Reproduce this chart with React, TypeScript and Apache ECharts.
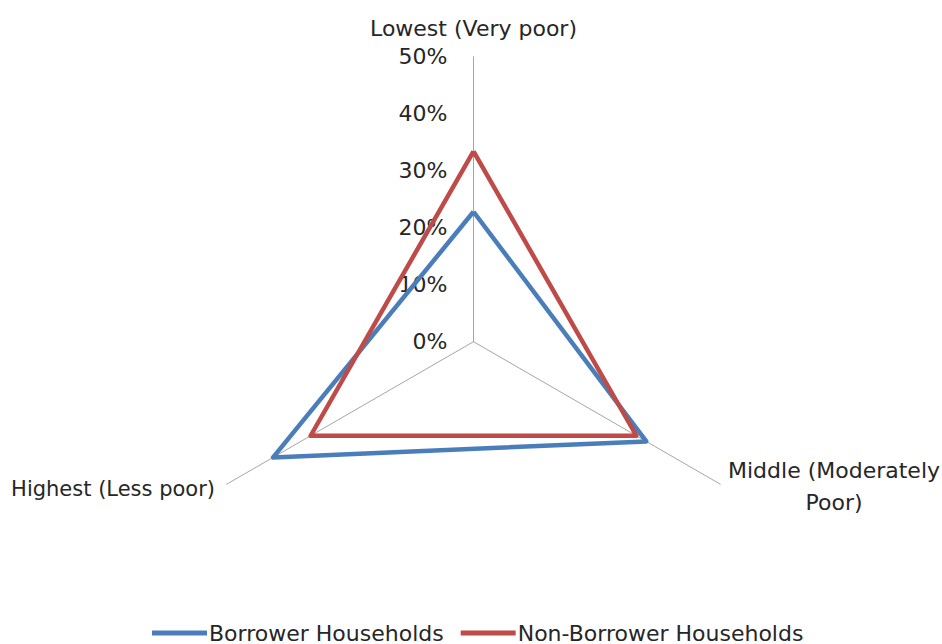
import React, { useEffect, useRef } from "react";
import * as echarts from "echarts";

const categories = ["Lowest (Very poor)", "Middle (Moderately Poor)", "Highest (Less poor)"];
const seriesNames = ["Borrower Households", "Non-Borrower Households"];
const borrower = [22.8, 35.0, 40.6];
const nonBorrower = [33.4, 33.0, 33.0];
const tickValues = [0, 10, 20, 30, 40, 50];

// radar indicators run counter-clockwise from the top: Lowest, Highest, Middle
const order = [0, 2, 1];

export default function App() {
  const ref = useRef<HTMLDivElement>(null);
  useEffect(() => {
    if (!ref.current) return;
    const chart = echarts.init(ref.current, null, { renderer: "svg" });
    const font = "'DejaVu Sans', 'Noto Sans', sans-serif";
    const fs = 22;
    const textColor = "#262626";
    const cx = 473.5;
    const cy = 341.7;
    const R = 285;
    chart.setOption({
      animation: false,
      backgroundColor: "#ffffff",
      textStyle: { fontFamily: font },
      radar: {
        center: [cx, cy],
        radius: R,
        startAngle: 90,
        shape: "polygon",
        splitNumber: 5,
        indicator: order.map((i) => ({ name: categories[i], min: 0, max: 50 })),
        axisName: { show: false },
        axisLine: { show: true, lineStyle: { color: "#a6a6a6", width: 1 } },
        axisTick: { show: false },
        axisLabel: { show: false },
        splitLine: { show: false },
        splitArea: { show: false },
      },
      grid: { left: cx, top: cy - R, width: 1, height: R },
      xAxis: { type: "value", show: false, min: 0, max: 1 },
      yAxis: {
        type: "value",
        min: tickValues[0],
        max: tickValues[tickValues.length - 1],
        interval: 10,
        axisLine: { show: false },
        axisTick: { show: false },
        splitLine: { show: false },
        axisLabel: {
          formatter: "{value}%",
          margin: 26,
          fontSize: fs,
          color: textColor,
          fontFamily: font,
        },
      },
      legend: {
        data: seriesNames,
        left: 152,
        top: 622,
        padding: 0,
        icon: "rect",
        itemWidth: 55,
        itemHeight: 5,
        itemGap: 17,
        textStyle: { fontSize: fs, color: textColor, fontFamily: font, padding: [0, 0, 0, -3] },
      },
      graphic: [
        {
          type: "text",
          x: cx,
          y: 28,
          style: {
            text: categories[0],
            font: `${fs}px ${font}`,
            fill: textColor,
            align: "center",
            verticalAlign: "middle",
          },
        },
        {
          type: "text",
          x: 834,
          y: 486,
          style: {
            text: "Middle (Moderately\nPoor)",
            font: `${fs}px ${font}`,
            fill: textColor,
            align: "center",
            verticalAlign: "middle",
            lineHeight: 32,
          },
        },
        {
          type: "text",
          x: 215,
          y: 489,
          style: {
            text: categories[2],
            font: `21px ${font}`,
            fill: textColor,
            align: "right",
            verticalAlign: "middle",
          },
        },
      ],
      series: [
        {
          type: "radar",
          symbol: "none",
          data: [
            {
              name: seriesNames[0],
              value: order.map((i) => borrower[i]),
              itemStyle: { color: "#4A7EBB" },
              lineStyle: { color: "#4A7EBB", width: 4.5 },
            },
            {
              name: seriesNames[1],
              value: order.map((i) => nonBorrower[i]),
              itemStyle: { color: "#BE4B48" },
              lineStyle: { color: "#BE4B48", width: 4.5 },
            },
          ],
        },
      ],
    });
    return () => chart.dispose();
  }, []);
  return (
    <div
      ref={ref}
      style={{ position: "absolute", left: 0, top: 0, width: 942, height: 644 }}
    />
  );
}
